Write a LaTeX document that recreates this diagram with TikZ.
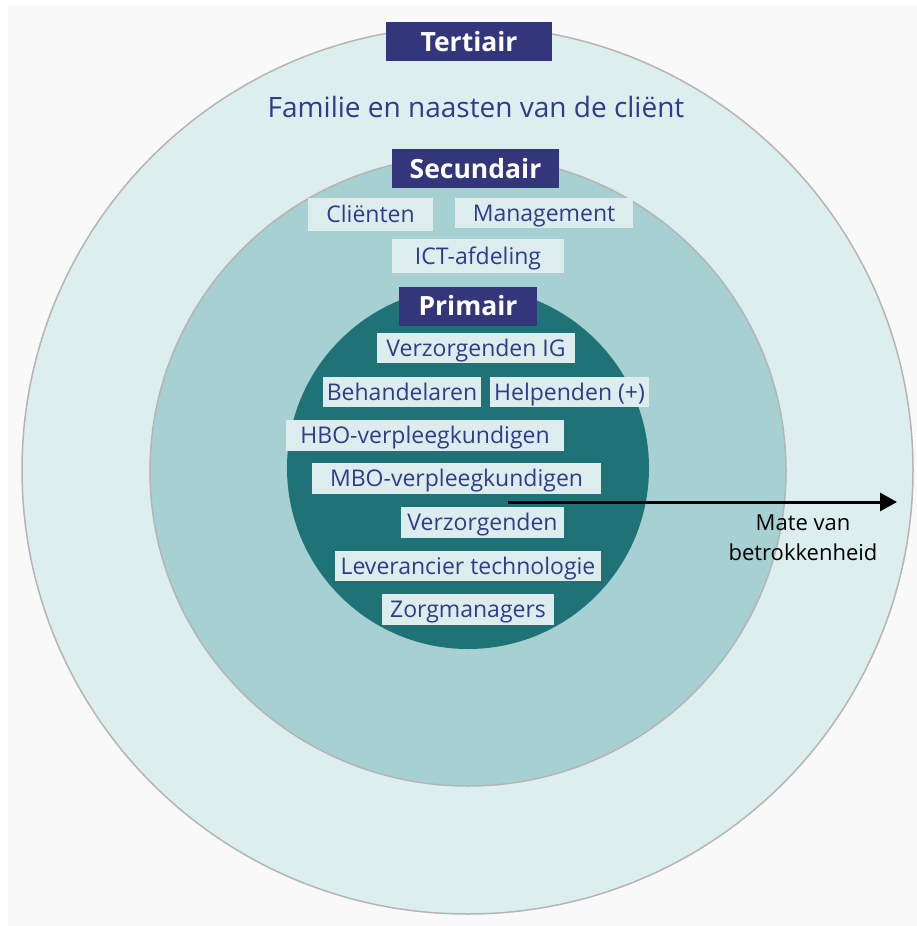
\documentclass[tikz,border=0pt]{standalone}
\usepackage{fontspec}
\setmainfont{Open Sans}
\usetikzlibrary{arrows.meta}
\definecolor{panel}{HTML}{F9F9F9}
\definecolor{ringout}{HTML}{DDEEEE}
\definecolor{ringmid}{HTML}{A7D0D3}
\definecolor{ringin}{HTML}{1F7275}
\definecolor{ringline}{HTML}{B5B5B5}
\definecolor{navy}{HTML}{33367A}
\definecolor{labeltext}{HTML}{2E3C8C}
\definecolor{labelfill}{HTML}{DDEDED}
\tikzset{
  header/.style={fill=navy, text=white, font=\fontsize{26.5}{30}\selectfont\bfseries,
    inner sep=0pt, minimum height=39pt, text height=19pt, text depth=0pt, anchor=center},
  tag/.style={fill=labelfill, text=labeltext, font=\fontsize{23}{26}\selectfont,
    inner sep=0pt, minimum height=30pt, text height=16.4pt, text depth=0pt, anchor=center},
  ring/.style={draw=ringline, line width=1.5pt},
}
\begin{document}
\begin{tikzpicture}[x=1pt,y=-1pt]
\useasboundingbox (0,0) rectangle (917,926);
\fill[white] (0,0) rectangle (917,926);
\fill[panel] (8,6) rectangle (917,926);

% three levels of involvement
\filldraw[ring, fill=ringout] (467.5,470) ellipse [x radius=445.5pt, y radius=444pt];
\filldraw[ring, fill=ringmid] (468,471) ellipse [x radius=318pt, y radius=315pt];
\fill[ringin] (468,468) circle [radius=181pt];

% level headers
\node[header, minimum width=166pt] (tert) at (469,41.5) {Tertiair};
\node[header, minimum width=167pt] (sec) at (475.5,168.5) {Secundair};
\node[header, minimum width=138pt] (prim) at (468,306) {Primair};

% tertiary
\node[text=labeltext, font=\fontsize{28}{30}\selectfont, inner sep=0pt,
  text height=20pt, text depth=0pt] (fam) at (476,107) {Familie en naasten van de cliënt};

% secondary
\node[tag, minimum width=125pt, minimum height=33pt] (cli) at (370.5,214.5) {Cliënten};
\node[tag, minimum width=178pt] (man) at (544,213) {Management};
\node[tag, minimum width=172pt, minimum height=34pt] (ict) at (478,256) {ICT-afdeling};

% primary
\node[tag, minimum width=198pt] (vig) at (476,348) {Verzorgenden IG};
\node[tag, minimum width=158pt] (beh) at (402,392) {Behandelaren};
\node[tag, minimum width=159pt] (hel) at (569.5,392) {Helpenden (+)};
\node[tag, minimum width=278pt, minimum height=31pt] (hbo) at (425,435.5) {HBO-verpleegkundigen};
\node[tag, minimum width=289pt, minimum height=31pt] (mbo) at (456.5,478.5) {MBO-verpleegkundigen};
\node[tag, minimum width=163pt, minimum height=31pt] (vz) at (482.5,522.5) {Verzorgenden};
\node[tag, minimum width=266pt] (lev) at (468,566) {Leverancier technologie};
\node[tag, minimum width=172pt, minimum height=31pt] (zm) at (468,609.5) {Zorgmanagers};

% involvement axis
\coordinate (axstart) at (508,502);
\coordinate (axend) at (897,502);
\draw[line width=3pt, -{Triangle[length=17pt,width=18pt]}] (axstart) -- (axend);
\node[font=\fontsize{22}{30}\selectfont, align=center, inner sep=0pt] (axlab) at (803,538) {Mate van\\betrokkenheid};
\end{tikzpicture}
\end{document}
